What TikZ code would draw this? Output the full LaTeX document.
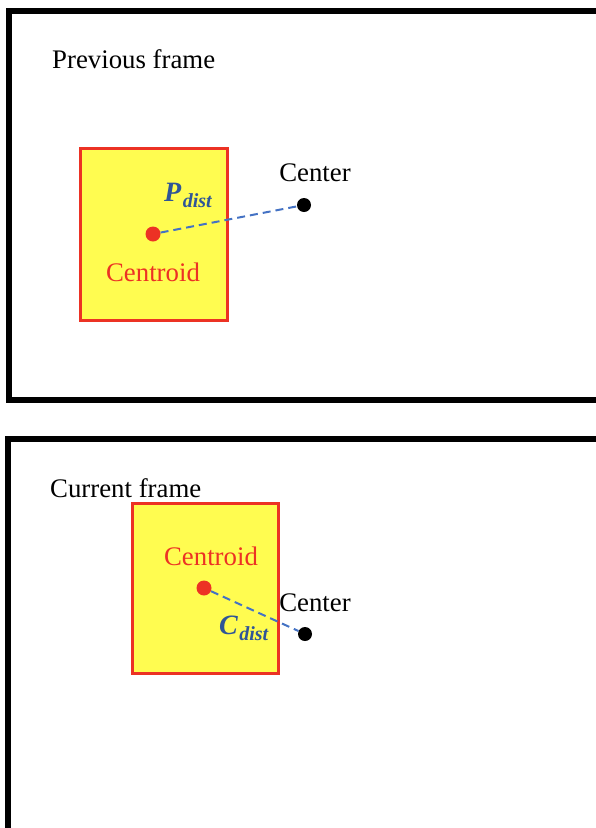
\documentclass[tikz,border=0pt]{standalone}
\usepackage{fontspec}
\setmainfont{Liberation Serif}
\definecolor{boxred}{RGB}{236,50,36}
\definecolor{boxyellow}{RGB}{255,252,80}
\definecolor{linkblue}{RGB}{68,114,196}
\definecolor{labelblue}{RGB}{47,85,151}
\newcommand{\distsub}[1]{\hspace{1.5pt}\raisebox{-6pt}{\fontsize{20}{22}\selectfont #1}}
\begin{document}
\begin{tikzpicture}[x=1pt,y=-1pt,
  frame/.style={draw=black,line width=6pt},
  bbox/.style={draw=boxred,fill=boxyellow,line width=3pt},
  txt/.style={inner sep=0pt,font=\fontsize{26.8}{30}\selectfont},
  centroidtxt/.style={txt,text=boxred},
  distlabel/.style={inner sep=0pt,text=labelblue,font=\fontsize{28}{30}\selectfont\bfseries\itshape},
  reddot/.style={circle,fill=boxred,minimum size=15pt,inner sep=0pt},
  blackdot/.style={circle,fill=black,minimum size=14pt,inner sep=0pt},
  distline/.style={draw=linkblue,line width=2pt,dash pattern=on 8pt off 5pt}]
\useasboundingbox (0,0) rectangle (596,828);
\fill[white] (0,0) rectangle (596,828);
% Previous frame
\draw[frame] (9,11) rectangle (630,400);
\node[txt,anchor=base west] (t1) at (52,68) {Previous frame};
\draw[bbox] (80,148) rectangle (227,320);
\node[reddot] (c1) at (153,234) {};
\node[blackdot] (k1) at (304,205) {};
\node[txt] (cen1) at (315,173) {Center};
\node[centroidtxt] (cd1) at (153,272) {Centroid};
\node[distlabel,anchor=base west] (p1) at (164,201) {P\distsub{dist}};
\draw[distline] (c1) -- (k1);
% Current frame
\draw[frame] (8,439) rectangle (630,860);
\node[txt,anchor=base west] (t2) at (50,497) {Current frame};
\draw[bbox] (132,503) rectangle (278,673);
\node[reddot] (c2) at (204,588) {};
\node[blackdot] (k2) at (305,634) {};
\node[txt] (cen2) at (315,603) {Center};
\node[centroidtxt] (cd2) at (211,556) {Centroid};
\node[distlabel,anchor=base west] (p2) at (219,634) {C\distsub{dist}};
\draw[distline] (c2) -- (k2);
\end{tikzpicture}
\end{document}
